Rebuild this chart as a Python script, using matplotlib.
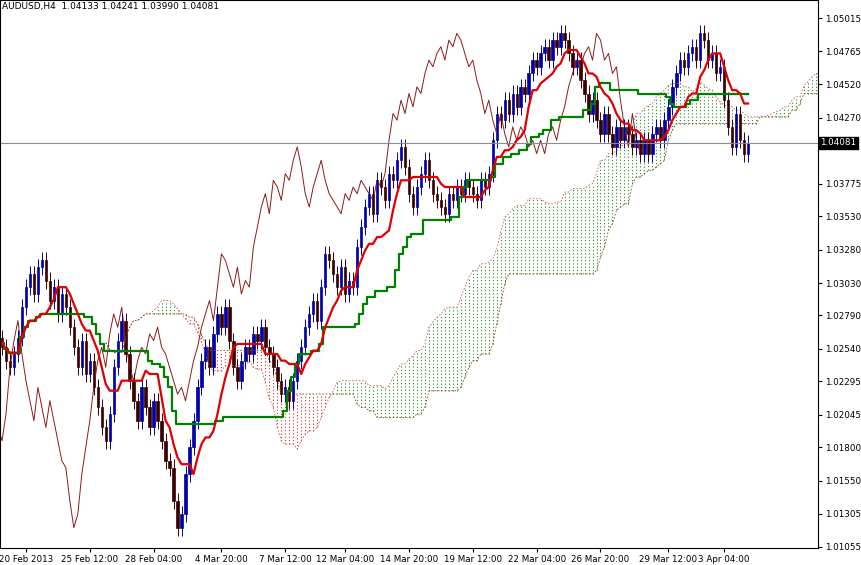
import numpy as np
import pandas as pd
import matplotlib
matplotlib.use("Agg")
import matplotlib.pyplot as plt

# closes per H4 bar
closes = [1.0255, 1.0245, 1.0240, 1.0250, 1.0262,
          1.0285, 1.0300, 1.0310, 1.0295, 1.0315, 1.0320, 1.0305,
          1.0290, 1.0300, 1.0280, 1.0295, 1.0285, 1.0270,
          1.0255, 1.0240, 1.0260, 1.0235, 1.0245,
          1.0225, 1.0210, 1.0195, 1.0185, 1.0205,
          1.0240, 1.0260, 1.0275, 1.0250,
          1.0230, 1.0215, 1.0200, 1.0225, 1.0210, 1.0195,
          1.0215, 1.0200, 1.0185, 1.0170, 1.0165,
          1.0140, 1.0120, 1.0130, 1.0160,
          1.0180, 1.0200, 1.0225, 1.0245,
          1.0255, 1.0240, 1.0265, 1.0280, 1.0270,
          1.0285, 1.0260, 1.0240,
          1.0230, 1.0245, 1.0255, 1.0250,
          1.0265, 1.0260, 1.0270, 1.0255, 1.0250,
          1.0240, 1.0230, 1.0220, 1.0225, 1.0215,
          1.0230, 1.0245, 1.0255, 1.0270, 1.0280,
          1.0290, 1.0275, 1.0300, 1.0325,
          1.0320, 1.0310, 1.0300, 1.0315, 1.0295,
          1.0305, 1.0300, 1.0330, 1.0345,
          1.0360, 1.0370, 1.0355, 1.0380, 1.0375,
          1.0365, 1.0385, 1.0380, 1.0395, 1.0405,
          1.0390, 1.0370, 1.0360, 1.0375, 1.0385,
          1.0395, 1.0380, 1.0370, 1.0365, 1.0360,
          1.0355, 1.0370, 1.0365, 1.0375, 1.0370,
          1.0380, 1.0375, 1.0370, 1.0365, 1.0380,
          1.0375, 1.0385, 1.0410, 1.0430, 1.0425,
          1.0440, 1.0430, 1.0445, 1.0435, 1.0450,
          1.0445, 1.0460, 1.0470, 1.0465, 1.0475,
          1.0480, 1.0470, 1.0485, 1.0480, 1.0490,
          1.0485, 1.0475, 1.0465, 1.0470, 1.0455,
          1.0445, 1.0430, 1.0440, 1.0425, 1.0415,
          1.0430, 1.0415, 1.0405, 1.0420, 1.0410,
          1.0420, 1.0415, 1.0405, 1.0410, 1.0400,
          1.0410, 1.0400, 1.0415, 1.0420, 1.0410,
          1.0425, 1.0435, 1.0450, 1.0460, 1.0470,
          1.0465, 1.0475, 1.0480, 1.0470, 1.0490,
          1.0485, 1.0470, 1.0475, 1.0460, 1.0465,
          1.0440, 1.0420, 1.0405, 1.0430, 1.0410, 1.0400, 1.04081]
first_open = 1.0262
wick = 0.0006

yticks = [1.05015, 1.04765, 1.04520, 1.04270, 1.03775, 1.03530, 1.03280,
          1.03030, 1.02790, 1.02540, 1.02295, 1.02045, 1.01800, 1.01550,
          1.01305, 1.01055]
xtick_bars = [6, 22, 38, 55, 71, 86, 102, 118, 134, 150, 167, 181]
xtick_labels = ["20 Feb 2013", "25 Feb 12:00", "28 Feb 04:00", "4 Mar 20:00",
                "7 Mar 12:00", "12 Mar 04:00", "14 Mar 20:00", "19 Mar 12:00",
                "22 Mar 04:00", "26 Mar 20:00", "29 Mar 12:00", "3 Apr 04:00"]
last_price = 1.04081

c = pd.Series(closes)
o = c.shift(1).fillna(first_open)
h = np.maximum(o, c) + wick
l = np.minimum(o, c) - wick
n = len(c)
x = np.arange(n)

tenkan = (h.rolling(9, min_periods=1).max() + l.rolling(9, min_periods=1).min()) / 2
kijun = (h.rolling(26, min_periods=1).max() + l.rolling(26, min_periods=1).min()) / 2
spanA = ((tenkan + kijun) / 2).values
spanB = ((h.rolling(52, min_periods=1).max() + l.rolling(52, min_periods=1).min()) / 2).values
xs = x + 26

fig = plt.figure(figsize=(8.61, 5.65), dpi=100)
ax = fig.add_axes([0.0, 0.03, 0.95, 0.97])

# cloud as dotted vertical strokes, one per bar
up = spanA >= spanB
ax.vlines(xs[up], spanB[up], spanA[up], color="#228b22", lw=0.8, ls=(0, (1, 2)))
ax.vlines(xs[~up], spanA[~up], spanB[~up], color="#d03030", lw=0.8, ls=(0, (1, 2)))
ax.plot(xs, spanA, color="#cd5c5c", lw=0.6, ls=(0, (2, 2)))
ax.plot(xs, spanB, color="#8b4513", lw=0.6, ls=(0, (2, 2)))
ax.plot(x - 26, c, color="#8b1a1a", lw=0.7)

for i in range(n):
    bull = c[i] >= o[i]
    col = "#0000aa" if bull else "#3a0000"
    ax.vlines(i, l[i], h[i], color=col, lw=0.7)
    lo, hi = min(o[i], c[i]), max(o[i], c[i])
    ax.bar(i, max(hi - lo, 0.00004), bottom=lo, width=0.6,
           facecolor=col, edgecolor=col, lw=0.5)

ax.plot(x, kijun, color="#008000", lw=1.6, drawstyle="steps-mid")
ax.plot(x, tenkan, color="#e00000", lw=1.6)

ax.axhline(last_price, color="#7f8c99", lw=0.8)

ax.set_xlim(-0.5, 204.5)
ax.set_ylim(1.01047, 1.05150)
ax.yaxis.tick_right()
ax.set_yticks(yticks)
ax.set_yticklabels(["%.5f" % v for v in yticks])
ax.set_xticks(xtick_bars)
ax.set_xticklabels(xtick_labels)
ax.tick_params(labelsize=6.3, length=3, pad=2)
for s in ax.spines.values():
    s.set_linewidth(0.8)

ax.text(1.003, (last_price - 1.01047) / (1.05150 - 1.01047), "%.5f" % last_price,
        transform=ax.transAxes, fontsize=6.3, color="white", va="center", ha="left",
        bbox=dict(facecolor="black", edgecolor="black", pad=1.0))
ax.text(0.003, 0.997, "AUDUSD,H4  1.04133 1.04241 1.03990 1.04081",
        transform=ax.transAxes, fontsize=6.5, va="top", ha="left")

fig.savefig("out.png", dpi=100)
